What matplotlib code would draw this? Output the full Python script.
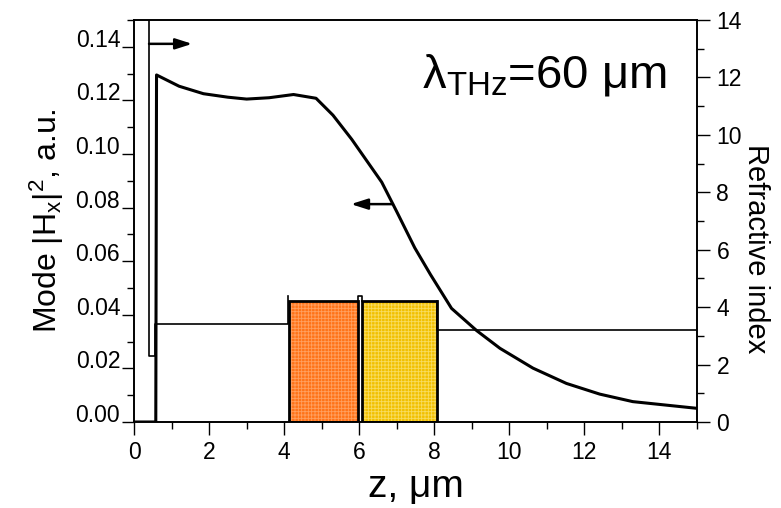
import matplotlib
matplotlib.use('Agg')
import matplotlib.pyplot as plt
from matplotlib.patches import Rectangle
from matplotlib.ticker import MultipleLocator, FormatStrFormatter

plt.rcParams['font.family'] = ['Liberation Sans', 'DejaVu Sans']
plt.rcParams['mathtext.fontset'] = 'custom'
plt.rcParams['mathtext.rm'] = 'Liberation Sans'
plt.rcParams['mathtext.it'] = 'Liberation Sans:italic'
plt.rcParams['hatch.linewidth'] = 0.6

# mode intensity |Hx|^2 along z (left axis)
z_mode = [0, 0.58, 0.6, 1.2, 1.85, 2.5, 3.0, 3.6, 4.25, 4.85, 5.3, 5.8, 6.2,
          6.6, 7.0, 7.48, 7.9, 8.46, 9.13, 9.75, 10.63, 11.52, 12.41, 13.29, 15.0]
h_mode = [0, 0, 0.1295, 0.1253, 0.1225, 0.1212, 0.1205, 0.121, 0.1222, 0.1208,
          0.1145, 0.1055, 0.0975, 0.0895, 0.0785, 0.065, 0.055, 0.0424, 0.0341,
          0.0275, 0.0201, 0.0144, 0.0104, 0.0076, 0.0051]

# refractive index profile (right axis)
z_clad = [0.4, 0.4, 0.57, 0.57, 4.1, 4.1]
n_clad = [14.5, 2.3, 2.3, 3.4, 3.4, 4.4]
z_gap = [5.98, 5.98, 6.08, 6.08]
n_gap = [4.2, 4.4, 4.4, 4.2]
z_subs = [8.07, 8.07, 15.0]
n_subs = [4.2, 3.2, 3.2]

# two core layers: (z start, z end, index, colour, grid colour)
layers = [(4.13, 5.98, 4.2, '#ff7318', '#ffa060'),
          (6.08, 8.07, 4.2, '#f2c000', '#f8dc60')]

fig, ax = plt.subplots(figsize=(7.81, 5.08), dpi=100)
fig.subplots_adjust(left=0.1716, right=0.8924, bottom=0.1693, top=0.9606)
ax2 = ax.twinx()

# index profile and layers
ax2.plot(z_clad, n_clad, color='k', lw=1.2)
ax2.plot(z_gap, n_gap, color='k', lw=1.2)
ax2.plot(z_subs, n_subs, color='k', lw=1.2)
for z0, z1, n, col, hcol in layers:
    ax2.add_patch(Rectangle((z0, 0), z1 - z0, n, facecolor=col, edgecolor='none'))
    ax2.add_patch(Rectangle((z0, 0), z1 - z0, n, fill=False, hatch='+++++',
                            edgecolor=hcol, linewidth=0))
    ax2.add_patch(Rectangle((z0, 0), z1 - z0, n, fill=False, edgecolor='k', lw=2))

ax2.annotate('', xy=(1.55, 13.17), xytext=(0.4, 13.17),
             arrowprops=dict(arrowstyle='-|>,head_length=1.0,head_width=0.32',
                             lw=1.8, color='k', shrinkA=0, shrinkB=0))

# mode curve on top
ax.set_zorder(ax2.get_zorder() + 1)
ax.patch.set_visible(False)
ax.plot(z_mode, h_mode, color='k', lw=2.2)
ax.annotate('', xy=(5.78, 0.0813), xytext=(6.9, 0.0813),
            arrowprops=dict(arrowstyle='-|>,head_length=1.0,head_width=0.32',
                            lw=1.8, color='k', shrinkA=0, shrinkB=0))

ax.text(0.947, 0.862, 'λ$_{\\mathrm{THz}}$=60 μm', transform=ax.transAxes,
        ha='right', va='center', fontsize=34)

ax.set_xlim(0, 15)
ax.set_ylim(0, 0.15)
ax2.set_ylim(0, 14)

ax.xaxis.set_major_locator(MultipleLocator(2))
ax.xaxis.set_minor_locator(MultipleLocator(1))
ax.yaxis.set_major_locator(MultipleLocator(0.02))
ax.yaxis.set_minor_locator(MultipleLocator(0.01))
ax.yaxis.set_major_formatter(FormatStrFormatter('%.2f'))
ax2.yaxis.set_major_locator(MultipleLocator(2))
ax2.yaxis.set_minor_locator(MultipleLocator(1))

for a in (ax, ax2):
    a.tick_params(which='major', length=9, width=1, labelsize=16.5)
    a.tick_params(which='minor', length=5, width=1)
    for s in a.spines.values():
        s.set_linewidth(1.2)
ax.tick_params(axis='y', pad=1)
ax.tick_params(axis='x', pad=5)
ax2.tick_params(axis='y', pad=5)
for lbl in ax.get_yticklabels():
    lbl.set_verticalalignment('baseline')

ax.set_xlabel('z, μm', fontsize=28, labelpad=3)
ax.set_ylabel(r'Mode $|\mathrm{H}_\mathrm{x}|^2$, a.u.', fontsize=23)
ax.yaxis.set_label_coords(-0.12, 0.5)
ax2.set_ylabel('Refractive index', fontsize=21, rotation=-90)
ax2.yaxis.set_label_coords(1.13, 0.43)

fig.savefig('out.png', dpi=100)
